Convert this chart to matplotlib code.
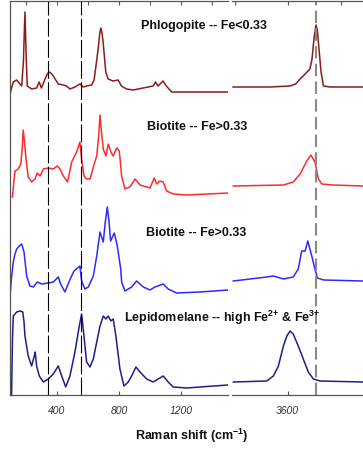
import matplotlib
matplotlib.use("Agg")
import matplotlib.pyplot as plt
from matplotlib.ticker import FixedLocator

plt.rcParams['font.family'] = ['Liberation Sans', 'DejaVu Sans']
plt.rcParams['mathtext.fontset'] = 'custom'
plt.rcParams['mathtext.rm'] = 'Liberation Sans:bold'
plt.rcParams['mathtext.bf'] = 'Liberation Sans:bold'
plt.rcParams['mathtext.it'] = 'Liberation Sans:bold:italic'

# ---------------- data (Raman shift cm^-1, relative intensity) ----------------
names = ["Phlogopite -- Fe<0.33", "Biotite -- Fe>0.33", "Biotite -- Fe>0.33",
         r"Lepidomelane -- high Fe$^{\text{2+}}$ & Fe$^{\text{3+}}$"]
offsets = [303, 200, 103, 7]
colors = ["#8c1c1c", "#ff2b2b", "#2b2bff", "#1e1e8a"]

phl_low_x = [100, 110, 121, 143, 164, 175, 186, 196, 205, 211, 239, 271, 287, 302, 325, 340, 350, 362,
             378, 410, 442, 463, 485, 517, 549, 570, 592, 624, 640, 652, 666, 676, 683, 690, 698, 715,
             730, 762, 794, 816, 848, 891, 955, 1019, 1034, 1051, 1070, 1083, 1104, 1138, 1234, 1500]
phl_low_y = [-2, 4, 10, 12, 8, 6, 30, 80, 30, 6, 3, 4, 10, 4, 13, 18, 20, 19,
             16, 8, 7, 6, 3, 5, 8, 5, 6, 7, 12, 26, 43, 58, 64, 60, 50, 20,
             13, 11, 12, 6, 3, 2, 4, 6, 10, 6, 9, 11, 6, 0, 0, 0]
phl_high_x = [3394, 3533, 3609, 3630, 3647, 3666, 3684, 3692, 3700, 3707, 3712, 3716, 3726, 3735, 3760, 3990]
phl_high_y = [5, 5, 6, 8, 13, 18, 23, 33, 55, 67, 62, 50, 20, 6, 5, 5]

bio1_low_x = [115, 132, 153, 169, 178, 185, 192, 203, 217, 239, 261, 275, 293, 314, 346, 378, 404, 421,
              442, 470, 496, 528, 549, 560, 575, 592, 614, 635, 657, 670, 678, 686, 699, 716, 731, 748,
              763, 785, 802, 817, 838, 870, 903, 935, 999, 1026, 1042, 1063, 1084, 1106, 1148, 1234, 1500]
bio1_low_y = [-2, 24, 26, 31, 45, 65, 55, 36, 18, 13, 16, 22, 19, 26, 27, 26, 29, 26,
              19, 13, 33, 43, 53, 36, 19, 16, 16, 28, 39, 60, 80, 65, 46, 39, 51, 43,
              39, 47, 44, 19, 6, 8, 16, 10, 7, 17, 11, 14, 13, 4, 1, 0, 2]
bio1_high_x = [3395, 3584, 3621, 3647, 3672, 3688, 3703, 3716, 3729, 3771, 3884, 3990]
bio1_high_y = [9, 10, 13, 21, 34, 40, 33, 16, 11, 10, 9, 9]

bio2_low_x = [100, 110, 121, 132, 143, 160, 175, 190, 207, 228, 250, 275, 304, 346, 378, 410, 425, 453,
              481, 511, 549, 560, 581, 603, 635, 657, 678, 699, 712, 725, 736, 746, 770, 789, 811, 817,
              838, 881, 913, 956, 999, 1031, 1084, 1116, 1170, 1320, 1500]
bio2_low_y = [-4, 15, 30, 38, 43, 46, 48, 40, 16, 6, 5, 10, 8, 9, 10, 15, 8, 0,
              11, 21, 26, 11, 3, 5, 16, 36, 60, 50, 70, 85, 70, 51, 59, 46, 23, 10,
              1, 5, 11, 5, 2, 5, 8, 3, -1, 0, 2]
bio2_high_x = [3395, 3521, 3546, 3584, 3621, 3640, 3653, 3666, 3676, 3691, 3703, 3712, 3735, 3884, 3990]
bio2_high_y = [11, 15, 16, 13, 15, 23, 41, 41, 51, 36, 23, 14, 12, 11, 11]

lep_low_x = [100, 110, 116, 121, 143, 164, 182, 190, 196, 217, 239, 256, 262, 271, 288, 314, 346, 378,
             410, 432, 458, 485, 517, 545, 560, 575, 592, 614, 635, 657, 678, 699, 716, 731, 748, 763,
             780, 806, 832, 859, 881, 909, 935, 978, 1020, 1052, 1084, 1116, 1148, 1234, 1320, 1500]
lep_low_y = [-7, -7, 50, 72, 76, 77, 76, 66, 52, 32, 22, 32, 36, 22, 12, 6, 9, 14,
             22, 12, 1, 12, 36, 62, 74, 52, 26, 21, 29, 46, 62, 72, 69, 72, 67, 69,
             52, 19, 2, 6, 12, 21, 16, 9, 6, 9, 12, 6, 1, 0, 1, 3]
lep_high_x = [3395, 3521, 3546, 3565, 3584, 3597, 3609, 3621, 3640, 3659, 3678, 3697, 3722, 3884, 3990]
lep_high_y = [6, 7, 12, 22, 42, 52, 57, 54, 42, 29, 16, 9, 7, 6, 6]

low_x = [phl_low_x, bio1_low_x, bio2_low_x, lep_low_x]
low_y = [phl_low_y, bio1_low_y, bio2_low_y, lep_low_y]
high_x = [phl_high_x, bio1_high_x, bio2_high_x, lep_high_x]
high_y = [phl_high_y, bio1_high_y, bio2_high_y, lep_high_y]

marker_lines_low = [345, 555]
marker_lines_high = [3707]

low_ticks = [400, 800, 1200]
low_minor = [200, 600, 1000, 1400]
high_ticks = [3600]
high_minor = [3400, 3800]

# ---------------- figure ----------------
W, H = 363, 452
fig = plt.figure(figsize=(W / 100, H / 100), dpi=100)
axL = fig.add_axes([10 / W, 1 - 396 / H, 218 / W, 394 / H])
axR = fig.add_axes([232 / W, 1 - 396 / H, 159 / W, 394 / H])

for i in range(4):
    axL.plot(low_x[i], [v + offsets[i] for v in low_y[i]], color=colors[i], lw=1.1,
             solid_joinstyle="round")
    axR.plot(high_x[i], [v + offsets[i] for v in high_y[i]], color=colors[i], lw=1.1,
             solid_joinstyle="round")

for xv in marker_lines_low:
    axL.axvline(xv, color="black", lw=0.8, dashes=(16, 3))
for xv in marker_lines_high:
    axR.axvline(xv, color="#8a8a8a", lw=1.5, dashes=(6, 2.5))

axL.set_xlim(100, 1500)
axR.set_xlim(3390, 3990)
for ax in (axL, axR):
    ax.set_ylim(0, 394)
    ax.set_yticks([])
    for s in ax.spines.values():
        s.set_color("#555555")
        s.set_linewidth(0.9)
    ax.tick_params(axis="x", which="both", direction="in", top=True, bottom=True,
                   length=3, width=0.8, color="#555555", labelsize=7.5, labelcolor="#333333", pad=7)
    ax.tick_params(axis="x", which="minor", bottom=False, top=True, length=3)

axL.spines["right"].set_visible(False)
axR.spines["left"].set_visible(False)

axL.xaxis.set_major_locator(FixedLocator(low_ticks))
axL.xaxis.set_minor_locator(FixedLocator(low_minor))
axR.xaxis.set_major_locator(FixedLocator(high_ticks))
axR.xaxis.set_minor_locator(FixedLocator(high_minor))
for ax in (axL, axR):
    for lab in ax.get_xticklabels():
        lab.set_fontstyle("italic")

label_pos = [(204, 26), (197, 127), (196, 233), (222, 318)]
for name, (px, py) in zip(names, label_pos):
    fig.text(px / W, 1 - py / H, name, ha="center", va="center",
             fontsize=9, fontweight="bold", color="#111111")

fig.text(192 / W, 1 - 436 / H, "Raman shift (cm$^{-1}$)", ha="center", va="center",
         fontsize=9, fontweight="bold", color="#111111")

fig.savefig("out.png", dpi=100)
